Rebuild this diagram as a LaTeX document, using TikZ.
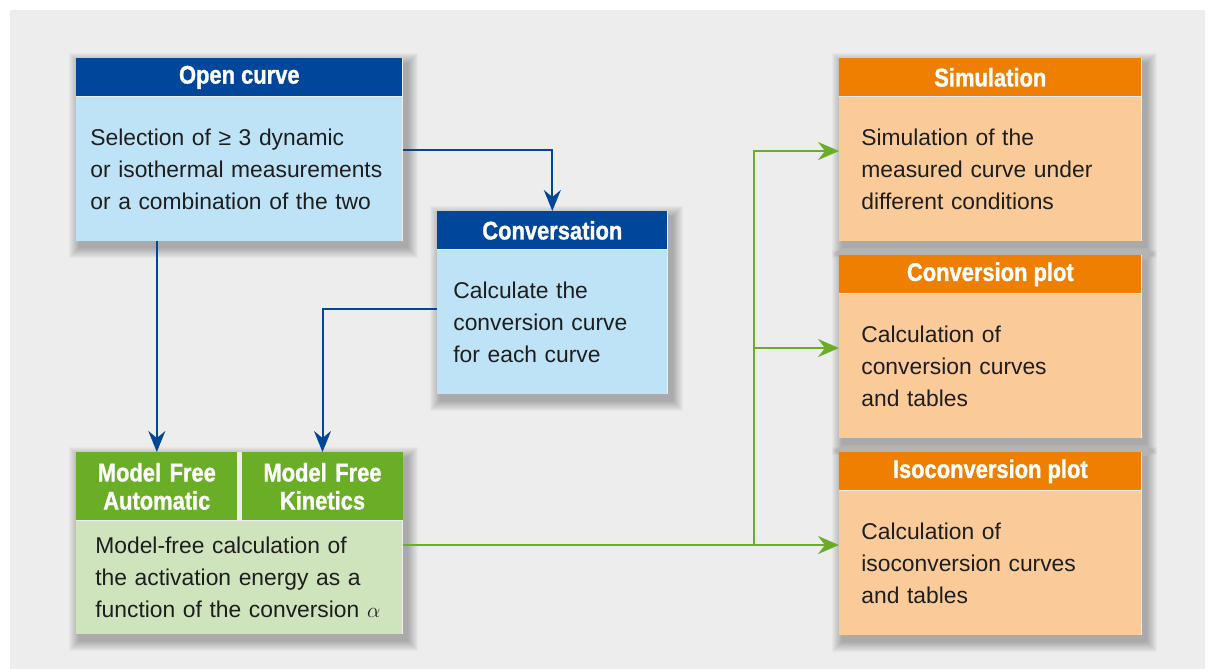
\documentclass[tikz,border=0pt]{standalone}
\usepackage{fontspec}
\setmainfont{Liberation Sans}
\newfontfamily\headfont[FakeStretch=0.86,FakeBold=1.2]{Liberation Sans}
\usepackage{tikz}
\usetikzlibrary{positioning,arrows.meta,backgrounds}
\definecolor{bg}{HTML}{EDEDED}
\definecolor{navy}{HTML}{00469A}
\definecolor{sky}{HTML}{BEE3F6}
\definecolor{leaf}{HTML}{6AAE27}
\definecolor{leaflt}{HTML}{CFE3BC}
\definecolor{amber}{HTML}{EE7F01}
\definecolor{amberlt}{HTML}{FACB98}
\definecolor{ink}{HTML}{1E1E1E}
\tikzset{
  head/.style={inner sep=0pt, minimum height=0.76cm, text=white, font=\headfont\bfseries\fontsize{14.5}{16}\selectfont},
  body/.style={inner ysep=0pt, minimum height=2.88cm, align=left, text=ink, font=\fontsize{13}{18.2}\selectfont},
  link/.style={draw=navy, line width=0.04cm, -{Stealth[length=0.42cm,width=0.34cm,inset=0.14cm]}},
  feed/.style={draw=leaf, line width=0.045cm, -{Stealth[length=0.42cm,width=0.36cm,inset=0.14cm]}},
  shade/.style={fill=black, fill opacity=0.028},
}
\begin{document}
\begin{tikzpicture}[x=0.02cm, y=-0.02cm]
  % input side
  \node[head, fill=navy, minimum width=6.52cm, anchor=north west] (open-h) at (76,58) {Open curve};
  \node[body, fill=sky, text width=5.96cm, inner xsep=0.28cm, below=0pt of open-h] (open-b)
    {Selection of ≥ 3 dynamic\\or isothermal measurements\\or a combination of the two};
  \node[head, fill=navy, minimum width=4.6cm, anchor=north west] (conv-h) at (437,211) {Conversation};
  \node[body, fill=sky, text width=3.96cm, inner xsep=0.32cm, below=0pt of conv-h] (conv-b)
    {Calculate the\\conversion curve\\for each curve};
  \node[head, fill=leaf, text width=3.22cm, minimum height=1.36cm, align=center, anchor=north west] (mfa-h) at (76,452) {Model Free\\Automatic};
  \node[head, fill=leaf, text width=3.22cm, minimum height=1.36cm, align=center, right=0.08cm of mfa-h] (mfk-h) {Model Free\\Kinetics};
  \node[body, fill=leaflt, text width=5.76cm, inner xsep=0.38cm, minimum height=2.26cm, below right=0pt and 0pt of mfa-h.south west] (mf-b)
    {Model-free calculation of\\the activation energy as a\\function of the conversion $\alpha$};
  % results
  \foreach \n/\y/\t/\b in {sim/58/Simulation/{Simulation of the\\measured curve under\\different conditions},
      cpl/255/Conversion plot/{Calculation of\\conversion curves\\and tables},
      icp/452/Isoconversion plot/{Calculation of\\isoconversion curves\\and tables}}{
    \node[head, fill=amber, minimum width=6.04cm, anchor=north west] (\n-h) at (839,\y) {\t};
    \node[body, fill=amberlt, text width=5.16cm, inner xsep=0.44cm, below=0pt of \n-h] (\n-b) {\b};
  }
  % connectors
  \draw[link] ([yshift=0.38cm]open-b.east) -| (conv-h.north);
  \draw[link] (open-b.south -| mfa-h.north) -- (mfa-h.north);
  \draw[link] ([yshift=0.26cm]conv-b.west) -| (mfk-h.north);
  \coordinate (fork) at (754,0);
  \coordinate (to-sim) at ([yshift=0.36cm]sim-b.west);
  \coordinate (to-cpl) at ([yshift=0.36cm]cpl-b.west);
  \coordinate (to-icp) at ([yshift=0.36cm]icp-b.west);
  \draw[feed] (to-icp -| mf-b.east) -- (to-icp);
  \draw[feed] (to-icp -| fork) |- (to-sim);
  \draw[feed] (to-cpl -| fork) -- (to-cpl);
  \begin{scope}[on background layer]
    \fill[white] (0,0) rectangle (1210,669);
    \fill[bg] (10,10) rectangle (1205,669);
    % soft shadows
    \foreach \h/\b in {open-h/open-b, conv-h/conv-b, mfa-h/mf-b, sim-h/sim-b, cpl-h/cpl-b, icp-h/icp-b}{
      \foreach \r in {1,...,11}
        \fill[shade] ([shift={(4-\r,6-\r)}]\h.north west) rectangle ([shift={(4+\r,6+\r)}]\b.south east);
      \fill[bg] (\h.north west) rectangle (\b.south east);
    }
  \end{scope}
\end{tikzpicture}
\end{document}
